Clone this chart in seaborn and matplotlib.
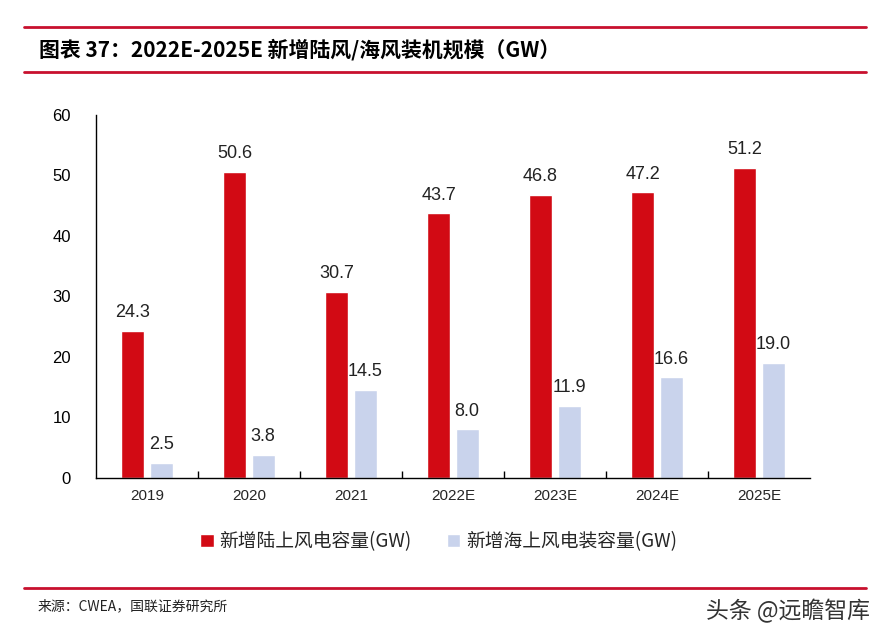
import matplotlib
matplotlib.use("Agg")

import pandas as pd
import numpy as np
import matplotlib.pyplot as plt
import seaborn as sns
from matplotlib.lines import Line2D

# ===============================
# 数据
# ===============================
years = ["2019", "2020", "2021", "2022E", "2023E", "2024E", "2025E"]
onshore = [24.3, 50.6, 30.7, 43.7, 46.8, 47.2, 51.2]
offshore = [2.5, 3.8, 14.5, 8.0, 11.9, 16.6, 19.0]
series_names = ["新增陆上风电容量(GW)", "新增海上风电装容量(GW)"]

title = "图表 37：2022E-2025E 新增陆风/海风装机规模（GW）"
source = "来源：CWEA，国联证券研究所"
watermark = "头条 @远瞻智库"

red = "#D20A14"
blue = "#C9D3EC"
line_red = "#C8102E"

df = pd.DataFrame({
    "year": years * 2,
    "value": onshore + offshore,
    "type": [series_names[0]] * len(years) + [series_names[1]] * len(years),
})

sns.set_theme(style="white")
plt.rcParams["font.family"] = ["Liberation Sans", "Noto Sans CJK SC", "DejaVu Sans"]
cjk = ["Noto Sans CJK SC", "DejaVu Sans"]

fig = plt.figure(figsize=(8.88, 6.42), dpi=100)
ax = fig.add_axes([0.108, 0.256, 0.804, 0.565])

sns.barplot(
    data=df, x="year", y="value", hue="type",
    palette=[red, blue], width=0.56, gap=0.2,
    saturation=1, ax=ax, legend=True,
)

for c in ax.containers:
    ax.bar_label(c, fmt="%.1f", padding=7, fontsize=13, color="#222222")

ax.set_ylim(0, 60)
ax.set_xlim(-0.5, len(years) - 0.5)
ax.set_yticks(range(0, 61, 10))
ax.set_xlabel("")
ax.set_ylabel("")

for s in ["top", "right"]:
    ax.spines[s].set_visible(False)
for s in ["left", "bottom"]:
    ax.spines[s].set_color("black")
    ax.spines[s].set_linewidth(1.0)

ax.tick_params(axis="y", direction="in", length=5, width=1, labelsize=12,
               pad=18, colors="black")
ax.tick_params(axis="x", which="major", length=0, labelsize=11, pad=8)
ax.set_xticks(np.arange(0.5, len(years) - 1, 1), minor=True)
ax.tick_params(axis="x", which="minor", direction="in", length=5, width=1,
               bottom=True, color="black")

sns.move_legend(
    ax, "center", bbox_to_anchor=(0.48, -0.175), ncol=2, frameon=False,
    title=None, handlelength=0.7, handleheight=0.7, handletextpad=0.3,
    columnspacing=1.9, prop={"family": cjk, "size": 13.5},
)

# 标题与红线
for yy in [27, 72, 588]:
    fig.add_artist(Line2D([0.027, 0.975], [1 - yy / 642] * 2, color=line_red,
                          lw=2, transform=fig.transFigure))

fig.text(0.044, 1 - 50 / 642, title, fontsize=15, fontweight="bold",
         family=cjk, va="center", ha="left", color="black")
fig.text(0.042, 1 - 606 / 642, source, fontsize=10, family=cjk,
         va="center", ha="left", color="#222222")
fig.text(0.98, 1 - 611 / 642, watermark, fontsize=16.5, family=cjk,
         va="center", ha="right", color="#333333")

fig.savefig("out.png", dpi=100)
plt.close()
